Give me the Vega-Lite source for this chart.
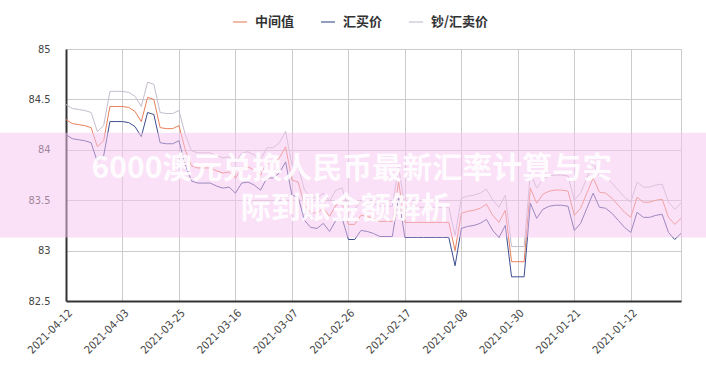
{
  "$schema": "https://vega.github.io/schema/vega-lite/v6.json",
  "width": 615,
  "height": 252,
  "autosize": {"type": "none"},
  "padding": {"left": 66, "top": 49, "right": 25, "bottom": 72},
  "background": "white",
  "config": {
    "view": {"stroke": "#cccccc", "strokeWidth": 1},
    "axis": {
      "labelFont": "'DejaVu Sans Condensed', 'Liberation Sans Narrow', 'DejaVu Sans', sans-serif",
      "labelFontSize": 11,
      "labelColor": "#444444",
      "gridColor": "#cccccc",
      "gridWidth": 1,
      "domainColor": "#333333",
      "domainWidth": 2,
      "ticks": false,
      "title": null,
      "labelOverlap": false
    }
  },
  "layer": [
    {
      "data": {
        "values": [
          {"d": "2021-04-12", "中间值": 84.30, "汇买价": 84.15, "钞/汇卖价": 84.45},
          {"d": "2021-04-11", "中间值": 84.26, "汇买价": 84.11, "钞/汇卖价": 84.41},
          {"d": "2021-04-10", "中间值": 84.25, "汇买价": 84.10, "钞/汇卖价": 84.40},
          {"d": "2021-04-09", "中间值": 84.24, "汇买价": 84.09, "钞/汇卖价": 84.39},
          {"d": "2021-04-08", "中间值": 84.22, "汇买价": 84.07, "钞/汇卖价": 84.37},
          {"d": "2021-04-07", "中间值": 84.03, "汇买价": 83.88, "钞/汇卖价": 84.18},
          {"d": "2021-04-06", "中间值": 84.09, "汇买价": 83.94, "钞/汇卖价": 84.24},
          {"d": "2021-04-05", "中间值": 84.43, "汇买价": 84.28, "钞/汇卖价": 84.58},
          {"d": "2021-04-04", "中间值": 84.43, "汇买价": 84.28, "钞/汇卖价": 84.58},
          {"d": "2021-04-03", "中间值": 84.43, "汇买价": 84.28, "钞/汇卖价": 84.58},
          {"d": "2021-04-02", "中间值": 84.42, "汇买价": 84.27, "钞/汇卖价": 84.57},
          {"d": "2021-04-01", "中间值": 84.38, "汇买价": 84.23, "钞/汇卖价": 84.53},
          {"d": "2021-03-31", "中间值": 84.28, "汇买价": 84.13, "钞/汇卖价": 84.43},
          {"d": "2021-03-30", "中间值": 84.52, "汇买价": 84.37, "钞/汇卖价": 84.67},
          {"d": "2021-03-29", "中间值": 84.50, "汇买价": 84.35, "钞/汇卖价": 84.65},
          {"d": "2021-03-28", "中间值": 84.22, "汇买价": 84.07, "钞/汇卖价": 84.37},
          {"d": "2021-03-27", "中间值": 84.21, "汇买价": 84.06, "钞/汇卖价": 84.36},
          {"d": "2021-03-26", "中间值": 84.21, "汇买价": 84.06, "钞/汇卖价": 84.36},
          {"d": "2021-03-25", "中间值": 84.24, "汇买价": 84.09, "钞/汇卖价": 84.39},
          {"d": "2021-03-24", "中间值": 84.00, "汇买价": 83.85, "钞/汇卖价": 84.15},
          {"d": "2021-03-23", "中间值": 83.84, "汇买价": 83.69, "钞/汇卖价": 83.99},
          {"d": "2021-03-22", "中间值": 83.82, "汇买价": 83.67, "钞/汇卖价": 83.97},
          {"d": "2021-03-21", "中间值": 83.82, "汇买价": 83.67, "钞/汇卖价": 83.97},
          {"d": "2021-03-20", "中间值": 83.82, "汇买价": 83.67, "钞/汇卖价": 83.97},
          {"d": "2021-03-19", "中间值": 83.79, "汇买价": 83.64, "钞/汇卖价": 83.94},
          {"d": "2021-03-18", "中间值": 83.77, "汇买价": 83.62, "钞/汇卖价": 83.92},
          {"d": "2021-03-17", "中间值": 83.78, "汇买价": 83.63, "钞/汇卖价": 83.93},
          {"d": "2021-03-16", "中间值": 83.72, "汇买价": 83.57, "钞/汇卖价": 83.87},
          {"d": "2021-03-15", "中间值": 83.82, "汇买价": 83.67, "钞/汇卖价": 83.97},
          {"d": "2021-03-14", "中间值": 83.83, "汇买价": 83.68, "钞/汇卖价": 83.98},
          {"d": "2021-03-13", "中间值": 83.80, "汇买价": 83.65, "钞/汇卖价": 83.95},
          {"d": "2021-03-12", "中间值": 83.75, "汇买价": 83.60, "钞/汇卖价": 83.90},
          {"d": "2021-03-11", "中间值": 83.87, "汇买价": 83.72, "钞/汇卖价": 84.02},
          {"d": "2021-03-10", "中间值": 83.87, "汇买价": 83.72, "钞/汇卖价": 84.02},
          {"d": "2021-03-09", "中间值": 83.92, "汇买价": 83.77, "钞/汇卖价": 84.07},
          {"d": "2021-03-08", "中间值": 84.03, "汇买价": 83.88, "钞/汇卖价": 84.18},
          {"d": "2021-03-07", "中间值": 83.70, "汇买价": 83.55, "钞/汇卖价": 83.85},
          {"d": "2021-03-06", "中间值": 83.68, "汇买价": 83.53, "钞/汇卖价": 83.83},
          {"d": "2021-03-05", "中间值": 83.45, "汇买价": 83.30, "钞/汇卖价": 83.60},
          {"d": "2021-03-04", "中间值": 83.38, "汇买价": 83.23, "钞/汇卖价": 83.53},
          {"d": "2021-03-03", "中间值": 83.37, "汇买价": 83.22, "钞/汇卖价": 83.52},
          {"d": "2021-03-02", "中间值": 83.42, "汇买价": 83.27, "钞/汇卖价": 83.57},
          {"d": "2021-03-01", "中间值": 83.34, "汇买价": 83.19, "钞/汇卖价": 83.49},
          {"d": "2021-02-28", "中间值": 83.45, "汇买价": 83.30, "钞/汇卖价": 83.60},
          {"d": "2021-02-27", "中间值": 83.47, "汇买价": 83.32, "钞/汇卖价": 83.62},
          {"d": "2021-02-26", "中间值": 83.26, "汇买价": 83.11, "钞/汇卖价": 83.41},
          {"d": "2021-02-25", "中间值": 83.26, "汇买价": 83.11, "钞/汇卖价": 83.41},
          {"d": "2021-02-24", "中间值": 83.35, "汇买价": 83.20, "钞/汇卖价": 83.50},
          {"d": "2021-02-23", "中间值": 83.34, "汇买价": 83.19, "钞/汇卖价": 83.49},
          {"d": "2021-02-22", "中间值": 83.32, "汇买价": 83.17, "钞/汇卖价": 83.47},
          {"d": "2021-02-21", "中间值": 83.29, "汇买价": 83.14, "钞/汇卖价": 83.44},
          {"d": "2021-02-20", "中间值": 83.29, "汇买价": 83.14, "钞/汇卖价": 83.44},
          {"d": "2021-02-19", "中间值": 83.29, "汇买价": 83.14, "钞/汇卖价": 83.44},
          {"d": "2021-02-18", "中间值": 83.68, "汇买价": 83.53, "钞/汇卖价": 83.83},
          {"d": "2021-02-17", "中间值": 83.28, "汇买价": 83.13, "钞/汇卖价": 83.43},
          {"d": "2021-02-16", "中间值": 83.28, "汇买价": 83.13, "钞/汇卖价": 83.43},
          {"d": "2021-02-15", "中间值": 83.28, "汇买价": 83.13, "钞/汇卖价": 83.43},
          {"d": "2021-02-14", "中间值": 83.28, "汇买价": 83.13, "钞/汇卖价": 83.43},
          {"d": "2021-02-13", "中间值": 83.28, "汇买价": 83.13, "钞/汇卖价": 83.43},
          {"d": "2021-02-12", "中间值": 83.28, "汇买价": 83.13, "钞/汇卖价": 83.43},
          {"d": "2021-02-11", "中间值": 83.28, "汇买价": 83.13, "钞/汇卖价": 83.43},
          {"d": "2021-02-10", "中间值": 83.28, "汇买价": 83.13, "钞/汇卖价": 83.43},
          {"d": "2021-02-09", "中间值": 83.00, "汇买价": 82.85, "钞/汇卖价": 83.15},
          {"d": "2021-02-08", "中间值": 83.37, "汇买价": 83.22, "钞/汇卖价": 83.52},
          {"d": "2021-02-07", "中间值": 83.39, "汇买价": 83.24, "钞/汇卖价": 83.54},
          {"d": "2021-02-06", "中间值": 83.40, "汇买价": 83.25, "钞/汇卖价": 83.55},
          {"d": "2021-02-05", "中间值": 83.42, "汇买价": 83.27, "钞/汇卖价": 83.57},
          {"d": "2021-02-04", "中间值": 83.46, "汇买价": 83.31, "钞/汇卖价": 83.61},
          {"d": "2021-02-03", "中间值": 83.35, "汇买价": 83.20, "钞/汇卖价": 83.50},
          {"d": "2021-02-02", "中间值": 83.28, "汇买价": 83.13, "钞/汇卖价": 83.43},
          {"d": "2021-02-01", "中间值": 83.40, "汇买价": 83.25, "钞/汇卖价": 83.55},
          {"d": "2021-01-31", "中间值": 82.89, "汇买价": 82.74, "钞/汇卖价": 83.04},
          {"d": "2021-01-30", "中间值": 82.89, "汇买价": 82.74, "钞/汇卖价": 83.04},
          {"d": "2021-01-29", "中间值": 82.89, "汇买价": 82.74, "钞/汇卖价": 83.04},
          {"d": "2021-01-28", "中间值": 83.62, "汇买价": 83.47, "钞/汇卖价": 83.77},
          {"d": "2021-01-27", "中间值": 83.47, "汇买价": 83.32, "钞/汇卖价": 83.62},
          {"d": "2021-01-26", "中间值": 83.56, "汇买价": 83.41, "钞/汇卖价": 83.71},
          {"d": "2021-01-25", "中间值": 83.59, "汇买价": 83.44, "钞/汇卖价": 83.74},
          {"d": "2021-01-24", "中间值": 83.60, "汇买价": 83.45, "钞/汇卖价": 83.75},
          {"d": "2021-01-23", "中间值": 83.60, "汇买价": 83.45, "钞/汇卖价": 83.75},
          {"d": "2021-01-22", "中间值": 83.59, "汇买价": 83.44, "钞/汇卖价": 83.74},
          {"d": "2021-01-21", "中间值": 83.35, "汇买价": 83.20, "钞/汇卖价": 83.50},
          {"d": "2021-01-20", "中间值": 83.42, "汇买价": 83.27, "钞/汇卖价": 83.57},
          {"d": "2021-01-19", "中间值": 83.57, "汇买价": 83.42, "钞/汇卖价": 83.72},
          {"d": "2021-01-18", "中间值": 83.72, "汇买价": 83.57, "钞/汇卖价": 83.87},
          {"d": "2021-01-17", "中间值": 83.58, "汇买价": 83.43, "钞/汇卖价": 83.73},
          {"d": "2021-01-16", "中间值": 83.57, "汇买价": 83.42, "钞/汇卖价": 83.72},
          {"d": "2021-01-15", "中间值": 83.52, "汇买价": 83.37, "钞/汇卖价": 83.67},
          {"d": "2021-01-14", "中间值": 83.45, "汇买价": 83.30, "钞/汇卖价": 83.60},
          {"d": "2021-01-13", "中间值": 83.38, "汇买价": 83.23, "钞/汇卖价": 83.53},
          {"d": "2021-01-12", "中间值": 83.33, "汇买价": 83.18, "钞/汇卖价": 83.48},
          {"d": "2021-01-11", "中间值": 83.53, "汇买价": 83.38, "钞/汇卖价": 83.68},
          {"d": "2021-01-10", "中间值": 83.48, "汇买价": 83.33, "钞/汇卖价": 83.63},
          {"d": "2021-01-09", "中间值": 83.48, "汇买价": 83.33, "钞/汇卖价": 83.63},
          {"d": "2021-01-08", "中间值": 83.50, "汇买价": 83.35, "钞/汇卖价": 83.65},
          {"d": "2021-01-07", "中间值": 83.51, "汇买价": 83.36, "钞/汇卖价": 83.66},
          {"d": "2021-01-06", "中间值": 83.33, "汇买价": 83.18, "钞/汇卖价": 83.48},
          {"d": "2021-01-05", "中间值": 83.26, "汇买价": 83.11, "钞/汇卖价": 83.41},
          {"d": "2021-01-04", "中间值": 83.32, "汇买价": 83.17, "钞/汇卖价": 83.47}
        ]
      },
      "transform": [{"fold": ["中间值", "汇买价", "钞/汇卖价"], "as": ["series", "value"]}],
      "mark": {"type": "line", "strokeWidth": 1},
      "encoding": {
        "x": {
          "field": "d",
          "type": "ordinal",
          "sort": null,
          "scale": {"type": "point", "padding": 0},
          "axis": {
            "values": ["2021-04-12", "2021-04-03", "2021-03-25", "2021-03-16", "2021-03-07", "2021-02-26", "2021-02-17", "2021-02-08", "2021-01-30", "2021-01-21", "2021-01-12"],
            "labelAngle": -45,
            "grid": true,
            "labelPadding": 6
          }
        },
        "y": {
          "field": "value",
          "type": "quantitative",
          "scale": {"domain": [82.5, 85], "nice": false, "zero": false},
          "axis": {"values": [82.5, 83, 83.5, 84, 84.5, 85], "format": "~g", "labelPadding": 16, "grid": true}
        },
        "color": {
          "field": "series",
          "type": "nominal",
          "scale": {"domain": ["中间值", "汇买价", "钞/汇卖价"], "range": ["#e8805a", "#3d4d8f", "#c4bccc"]},
          "legend": {
            "title": null,
            "orient": "none",
            "legendX": 166,
            "legendY": -35,
            "direction": "horizontal",
            "symbolType": "stroke",
            "symbolStrokeWidth": 2,
            "symbolSize": 196,
            "symbolOpacity": 0.55,
            "labelFont": "Noto Sans CJK SC",
            "labelFontSize": 13,
            "labelFontWeight": "bold",
            "labelColor": "#333333",
            "labelOffset": 7,
            "columnPadding": 22
          }
        }
      }
    },
    {
      "data": {"values": [{"bx0": -0.108, "bx1": 1.05, "y0": 84.17, "y1": 83.13}]},
      "mark": {"type": "rect", "fill": "#f7c3ef", "opacity": 0.5},
      "encoding": {
        "x": {"field": "bx0", "type": "quantitative", "scale": {"domain": [0, 1], "nice": false, "zero": false}, "axis": null},
        "x2": {"field": "bx1"},
        "y": {"field": "y0", "type": "quantitative", "scale": {"domain": [82.5, 85], "nice": false, "zero": false}},
        "y2": {"field": "y1"}
      }
    },
    {
      "data": {
        "values": [
          {"bx": 0.465, "ty": 83.81, "t": "6000澳元兑换人民币最新汇率计算与实"},
          {"bx": 0.455, "ty": 83.41, "t": "际到账金额解析"}
        ]
      },
      "mark": {"type": "text", "fill": "#ffffff", "fontSize": 30, "fontWeight": "bold", "font": "Noto Sans CJK SC", "opacity": 0.88, "baseline": "middle", "align": "center"},
      "encoding": {
        "x": {"field": "bx", "type": "quantitative", "scale": {"domain": [0, 1], "nice": false, "zero": false}, "axis": null},
        "y": {"field": "ty", "type": "quantitative", "scale": {"domain": [82.5, 85], "nice": false, "zero": false}},
        "text": {"field": "t"}
      }
    }
  ],
  "resolve": {"scale": {"x": "independent"}}
}
